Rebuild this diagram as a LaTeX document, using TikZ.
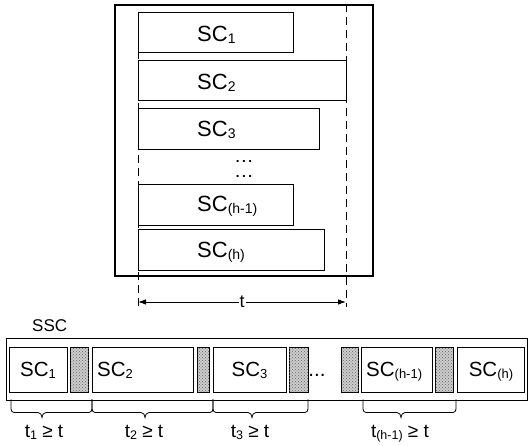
\documentclass[tikz,border=0pt]{standalone}
\usepackage{fontspec}
\setmainfont{Liberation Sans}
\usetikzlibrary{patterns,arrows.meta}
\newcommand\fBig{\fontsize{22}{26}\selectfont}
\newcommand\fMid{\fontsize{20.5}{24}\selectfont}
\newcommand\fLab{\fontsize{19}{22}\selectfont}
\newcommand\fSSC{\fontsize{17}{20}\selectfont}
\newcommand\lsub[2]{\raisebox{-1.6pt}{\fontsize{#1}{#1}\selectfont #2}}
\newcommand\wdots{\fontsize{13.5}{14}\selectfont\textbf{.}\kern2.6pt\textbf{.}\kern2.6pt\textbf{.}}
\newcommand\sbrace[3]{%
  \draw[bracel] (#1,399.5) -- (#1,409) to[out=-90,in=180] ({#1+3},412.5) -- ({#2-4},412.5)
    to[out=0,in=90] (#2,417.5) to[out=90,in=180] ({#2+4},412.5) -- ({#3-3},412.5)
    to[out=0,in=-90] (#3,409) -- (#3,399.5);}
\begin{document}
\begin{tikzpicture}[x=1pt,y=-1pt,
  bigbox/.style={draw, line width=1.8pt, inner sep=0pt, anchor=north west},
  scbox/.style={draw, line width=1pt, inner sep=0pt, anchor=north west},
  hatchbox/.style={draw, line width=1pt, inner sep=0pt, anchor=north west, fill=gray!40,
     postaction={pattern=crosshatch dots, pattern color=black!60}},
  lbl/.style={inner sep=0pt},
  dotlbl/.style={inner sep=0pt, text height=3pt, text depth=0pt, anchor=base},
  dashline/.style={line width=1pt, dash pattern=on 8pt off 5pt},
  dim/.style={line width=0.9pt, {Latex[length=8pt,width=5.5pt]}-{Latex[length=8pt,width=5.5pt]}},
  bracel/.style={line width=0.8pt}]
\useasboundingbox (0,0) rectangle (528,446);

% ---------- upper part ----------
\node[bigbox, minimum width=258pt, minimum height=271pt] (frame) at (114,4) {};
\coordinate (dlt) at (138,12);
\coordinate (dlb) at (138,307);
\coordinate (drt) at (346,4);
\coordinate (drb) at (346,307);
\draw[dashline] (dlt) -- (dlb);
\draw[dashline] (drt) -- (drb);

\node[scbox, minimum width=155pt, minimum height=40pt] (u1) at (138,12) {};
\node[scbox, minimum width=208pt, minimum height=40pt] (u2) at (138,60) {};
\node[scbox, minimum width=181pt, minimum height=41pt] (u3) at (138,108) {};
\node[scbox, minimum width=155pt, minimum height=41pt] (u4) at (138,184) {};
\node[scbox, minimum width=186pt, minimum height=41pt] (u5) at (138,229) {};

\node[lbl, anchor=base west] (u1l) at (197,42) {\fBig SC\lsub{14}{1}};
\node[lbl, anchor=base west] (u2l) at (197,90) {\fBig SC\lsub{14}{2}};
\node[lbl, anchor=base west] (u3l) at (197,137) {\fBig SC\lsub{14}{3}};
\node[dotlbl] (ud1) at (244,163) {\wdots};
\node[dotlbl] (ud2) at (244,178) {\wdots};
\node[lbl, anchor=base west] (u4l) at (197,212) {\fBig SC\lsub{14}{(h-1)}};
\node[lbl, anchor=base west] (u5l) at (197,258) {\fBig SC\lsub{14}{(h)}};

\coordinate (al) at (138,302);
\coordinate (ar) at (346,302);
\draw[dim] (al) -- node[fill=white, inner sep=1pt] (tl) {\fontsize{18}{20}\selectfont t} (ar);

% ---------- lower part ----------
\node[lbl, anchor=base west] (ssc) at (32,332) {\fSSC SSC};
\node[draw, line width=1.4pt, inner sep=0pt, anchor=north west, minimum width=521pt, minimum height=62pt] (outer) at (6,338) {};

\node[scbox, minimum width=58pt, minimum height=45pt] (b1) at (9,347) {};
\node[hatchbox, minimum width=18pt, minimum height=45pt] (h1) at (70,347) {};
\node[scbox, minimum width=101pt, minimum height=45pt] (b2) at (92,347) {};
\node[hatchbox, minimum width=12pt, minimum height=45pt] (h2) at (197,347) {};
\node[scbox, minimum width=73pt, minimum height=45pt] (b3) at (213,347) {};
\node[hatchbox, minimum width=19pt, minimum height=45pt] (h3) at (288.5,347) {};
\node[hatchbox, minimum width=17pt, minimum height=45pt] (h4) at (341,347) {};
\node[scbox, minimum width=71pt, minimum height=45pt] (b4) at (361,347) {};
\node[hatchbox, minimum width=18pt, minimum height=45pt] (h5) at (434.5,347) {};
\node[scbox, minimum width=67pt, minimum height=45pt] (b5) at (457,347) {};

\node[lbl, anchor=base] (b1l) at (38,377) {\fMid SC\lsub{13}{1}};
\node[lbl, anchor=base west] (b2l) at (97,377) {\fMid SC\lsub{13}{2}};
\node[lbl, anchor=base] (b3l) at (249.5,377) {\fMid SC\lsub{13}{3}};
\node[dotlbl] (bd) at (317,377) {\fMid ...};
\node[lbl, anchor=base west] (b4l) at (366,377) {\fMid SC\lsub{13}{(h-1)}};
\node[lbl, anchor=base] (b5l) at (491,377) {\fMid SC\lsub{13}{(h)}};

\sbrace{11}{42}{92}
\sbrace{92}{145}{213}
\sbrace{213}{252}{308}
\sbrace{363}{401}{456}

\node[lbl, anchor=base] (t1) at (44,438) {\fLab t\lsub{12.5}{1} ≥ t};
\node[lbl, anchor=base] (t2) at (144,438) {\fLab t\lsub{12.5}{2} ≥ t};
\node[lbl, anchor=base] (t3) at (250,438) {\fLab t\lsub{12.5}{3} ≥ t};
\node[lbl, anchor=base] (t4) at (400,438) {\fLab t\lsub{12.5}{(h-1)} ≥ t};
\end{tikzpicture}
\end{document}
